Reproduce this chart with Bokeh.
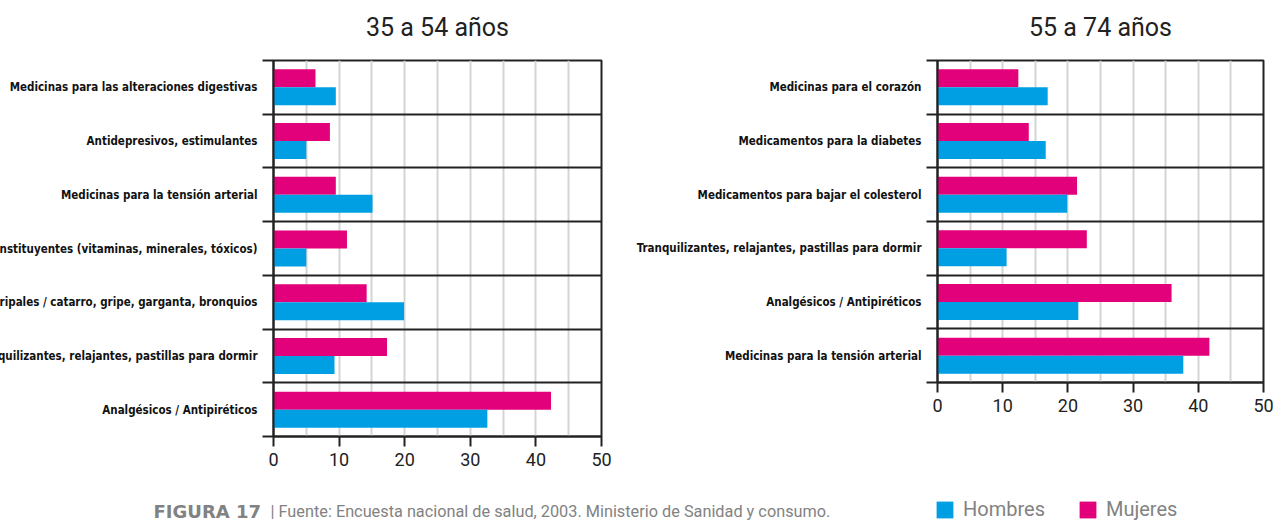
from bokeh.plotting import figure
from bokeh.models import (FixedTicker, ColumnDataSource, Legend, LegendItem, Label, Range1d)
from bokeh.layouts import row, column
from bokeh.transform import dodge
from bokeh.embed import file_html
from bokeh.resources import INLINE

# ---------------- data ----------------
cats_35 = [
    "Medicinas para las alteraciones digestivas",
    "Antidepresivos, estimulantes",
    "Medicinas para la tensión arterial",
    "Reconstituyentes (vitaminas, minerales, tóxicos)",
    "Antigripales / catarro, gripe, garganta, bronquios",
    "Tranquilizantes, relajantes, pastillas para dormir",
    "Analgésicos / Antipiréticos",
]
mujeres_35 = [6.4, 8.6, 9.5, 11.2, 14.2, 17.3, 42.3]
hombres_35 = [9.5, 5.0, 15.1, 5.0, 19.9, 9.3, 32.6]

cats_55 = [
    "Medicinas para el corazón",
    "Medicamentos para la diabetes",
    "Medicamentos para bajar el colesterol",
    "Tranquilizantes, relajantes, pastillas para dormir",
    "Analgésicos / Antipiréticos",
    "Medicinas para la tensión arterial",
]
mujeres_55 = [12.4, 14.0, 21.4, 22.9, 35.9, 41.7]
hombres_55 = [16.9, 16.6, 19.9, 10.6, 21.6, 37.7]

x_ticks = [0, 10, 20, 30, 40, 50]
x_grid = [5, 10, 15, 20, 25, 30, 35, 40, 45]
titles = ["35 a 54 años", "55 a 74 años"]
series_names = ["Hombres", "Mujeres"]
footer_bold = "FIGURA 17"
footer_text = "| Fuente: Encuesta nacional de salud, 2003. Ministerio de Sanidad y consumo."

# ---------------- style ----------------
BLUE = "#009FE3"
PINK = "#E3007B"
DARK = "#222222"
GRID = "#d4d4d4"
GREY_TXT = "#828282"
LABEL_FONT = "'Liberation Sans Narrow', 'DejaVu Sans Condensed', 'Arial Narrow', sans-serif"
DIN = "Roboto"


def make_panel(title, cats, muj, hom, frame_w, frame_h, min_left, min_right, min_bottom, margin):
    n = len(cats)
    centers = [n - i - 0.5 for i in range(n)]
    bounds = list(range(n + 1))
    src = ColumnDataSource(dict(pos=centers, muj=muj, hom=hom, cat=cats))
    p = figure(frame_width=frame_w, frame_height=frame_h,
               x_range=Range1d(0, 50), y_range=Range1d(0, n),
               output_backend="svg", toolbar_location=None,
               min_border_left=min_left, min_border_right=min_right,
               min_border_top=69, min_border_bottom=min_bottom,
               margin=margin, title=title)
    p.hbar(y=dodge("pos", 0.1675, range=p.y_range), left=0, right="muj", height=0.335,
           source=src, fill_color=PINK, line_color=None)
    p.hbar(y=dodge("pos", -0.1675, range=p.y_range), left=0, right="hom", height=0.335,
           source=src, fill_color=BLUE, line_color=None)

    # title
    p.title.align = "center"
    p.title.text_font = DIN
    p.title.text_font_style = "normal"
    p.title.text_font_size = "25px"
    p.title.text_color = DARK
    p.title.standoff = 38

    # x axis
    xa = p.xaxis[0]
    xa.ticker = FixedTicker(ticks=x_ticks)
    xa.axis_line_color = DARK
    xa.axis_line_width = 2
    xa.major_tick_line_color = DARK
    xa.major_tick_line_width = 2
    xa.major_tick_out = 10
    xa.major_tick_in = 0
    xa.minor_tick_line_color = None
    xa.major_label_text_font = DIN
    xa.major_label_text_font_size = "18px"
    xa.major_label_text_color = DARK
    xa.major_label_standoff = 6

    # y axis: labels at centers, ticks at category boundaries
    ya = p.yaxis[0]
    ya.ticker = FixedTicker(ticks=centers, minor_ticks=bounds)
    ya.major_label_overrides = {c: name for c, name in zip(centers, cats)}
    ya.axis_line_color = DARK
    ya.axis_line_width = 2
    ya.major_tick_line_color = None
    ya.major_tick_out = 0
    ya.major_tick_in = 0
    ya.minor_tick_line_color = DARK
    ya.minor_tick_line_width = 2
    ya.minor_tick_out = 11
    ya.minor_tick_in = 0
    ya.major_label_text_font = LABEL_FONT
    ya.major_label_text_font_style = "bold"
    ya.major_label_text_font_size = "11.5px"
    ya.major_label_text_color = "#111111"
    ya.major_label_standoff = 5

    # grids
    p.xgrid.ticker = FixedTicker(ticks=x_grid)
    p.xgrid.grid_line_color = GRID
    p.xgrid.grid_line_width = 2
    p.ygrid.ticker = FixedTicker(ticks=bounds)
    p.ygrid.grid_line_color = DARK
    p.ygrid.grid_line_width = 2

    p.outline_line_color = DARK
    p.outline_line_width = 2
    p.outline_line_alpha = 1
    p.background_fill_color = "white"
    p.border_fill_color = "white"
    return p


p1 = make_panel(titles[0], cats_35, mujeres_35, hombres_35,
                frame_w=328, frame_h=376, min_left=340, min_right=12, min_bottom=44,
                margin=(-9, 0, 0, -67))
p2 = make_panel(titles[1], cats_55, mujeres_55, hombres_55,
                frame_w=326, frame_h=322, min_left=324, min_right=13, min_bottom=98,
                margin=(-9, 0, 0, 0))

# ---------------- footer ----------------
foot = figure(width=1276, height=41, x_range=Range1d(0, 1276), y_range=Range1d(0, 41),
              output_backend="svg", toolbar_location=None, min_border=0,
              min_border_left=0, min_border_right=0, min_border_top=0, min_border_bottom=0)
foot.axis.visible = False
foot.grid.visible = False
foot.outline_line_color = None

foot.add_layout(Label(x=153, y=10, text=footer_bold, text_font="DejaVu Sans", text_font_style="bold",
                      text_font_size="18px", text_color=GREY_TXT, text_baseline="middle"))
foot.add_layout(Label(x=270, y=10, text=footer_text, text_font=DIN,
                      text_font_size="16.3px", text_color=GREY_TXT, text_baseline="middle"))

# zero-length bars serving only as legend swatches
r_h = foot.hbar(y=[0], left=[0], right=[0], height=0, fill_color=BLUE, line_color=None)
r_m = foot.hbar(y=[0], left=[0], right=[0], height=0, fill_color=PINK, line_color=None)
legend = Legend(items=[LegendItem(label=series_names[0], renderers=[r_h]),
                       LegendItem(label=series_names[1], renderers=[r_m])],
                orientation="horizontal", location=(934, 0),
                glyph_width=21, glyph_height=21, label_height=21, label_standoff=8,
                spacing=32, padding=0, margin=0, border_line_color=None,
                background_fill_alpha=0,
                label_text_font=DIN, label_text_font_size="20px",
                label_text_color=GREY_TXT)
foot.add_layout(legend)

layout = column(row(p1, p2), foot)
open("out.html", "w").write(file_html(layout, INLINE))
